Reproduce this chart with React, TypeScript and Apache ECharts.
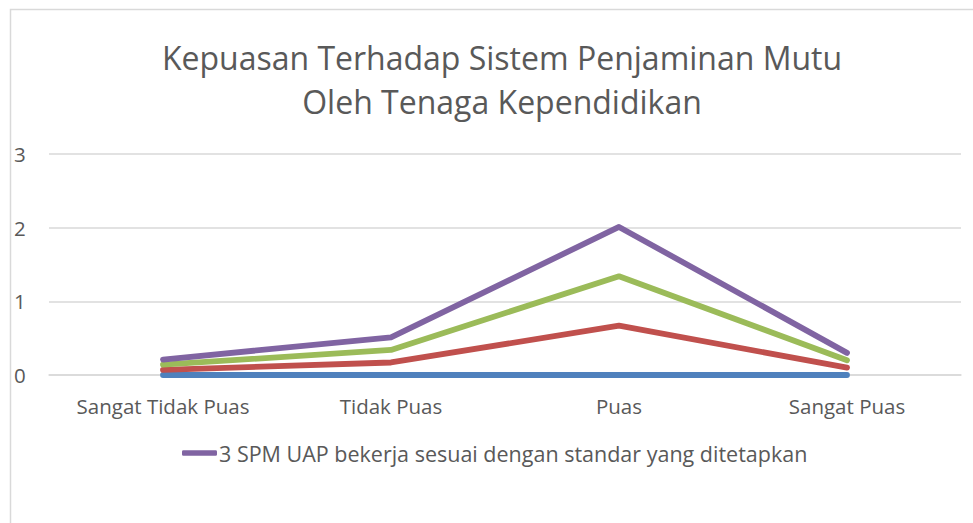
import React, { useEffect, useRef } from "react";
import * as echarts from "echarts";

const categories = ["Sangat Tidak Puas", "Tidak Puas", "Puas", "Sangat Puas"];
const seriesNames = [
  "1 SPM UAP dipahami oleh tenaga kependidikan",
  "2 SPM UAP disosialisasikan dengan baik",
  "2b SPM UAP dilaksanakan secara konsisten",
  "3 SPM UAP bekerja sesuai dengan standar yang ditetapkan",
];
// stacked increments per series
const series1 = [0, 0, 0, 0];
const series2 = [0.07, 0.17, 0.67, 0.1];
const series3 = [0.07, 0.17, 0.67, 0.1];
const series4 = [0.07, 0.17, 0.67, 0.1];
const colors = ["#4F81BD", "#C0504D", "#9BBB59", "#8064A2"];
const yTicks = { min: 0, max: 3, interval: 1 };

const FONT = "'Open Sans', sans-serif";
const TEXT = "#595959";

export default function App() {
  const ref = useRef<HTMLDivElement>(null);
  useEffect(() => {
    document.body.style.margin = "0";
    const chart = echarts.init(ref.current!, null, { renderer: "svg" });
    const data = [series1, series2, series3, series4];
    chart.setOption({
      animation: false,
      backgroundColor: "#ffffff",
      title: {
        text: "Kepuasan Terhadap Sistem Penjaminan Mutu\nOleh Tenaga Kependidikan",
        left: 497,
        textAlign: "center",
        top: 30,
        textStyle: {
          fontFamily: FONT,
          fontSize: 32,
          fontWeight: "normal",
          color: TEXT,
          lineHeight: 44,
        },
      },
      graphic: [
        {
          type: "rect",
          shape: { x: 10.5, y: 9.5, width: 1000, height: 1000 },
          style: { fill: "none", stroke: "#d9d9d9", lineWidth: 1.5 },
          silent: true,
        },
      ],
      legend: {
        data: [seriesNames[3]],
        left: 177,
        top: 437,
        itemWidth: 35,
        itemHeight: 5.5,
        itemGap: 4,
        icon: "roundRect",
        textStyle: { fontFamily: FONT, fontSize: 21.5, color: TEXT, padding: [0, 0, 0, -3] },
      },
      grid: { left: 49, right: 12, top: 154, bottom: 148 },
      xAxis: {
        type: "category",
        data: categories,
        boundaryGap: true,
        axisLine: { show: true, lineStyle: { color: "#d9d9d9", width: 1.5 } },
        axisTick: { show: false },
        axisLabel: { fontFamily: FONT, fontSize: 20.5, color: TEXT, margin: 20 },
      },
      yAxis: {
        type: "value",
        min: yTicks.min,
        max: yTicks.max,
        interval: yTicks.interval,
        axisLine: { show: false },
        axisTick: { show: false },
        splitLine: { lineStyle: { color: "#d9d9d9", width: 1.5 } },
        axisLabel: { fontFamily: FONT, fontSize: 20.5, color: TEXT, margin: 35, align: "left" },
      },
      series: data.map((d, i) => ({
        name: seriesNames[i],
        type: "line",
        stack: "total",
        data: d,
        symbol: "none",
        lineStyle: { color: colors[i], width: 5.8, cap: "round", join: "round" },
        itemStyle: { color: colors[i] },
        z: 2 + i,
      })),
    });
    return () => chart.dispose();
  }, []);
  return <div ref={ref} style={{ width: 973, height: 523 }} />;
}
